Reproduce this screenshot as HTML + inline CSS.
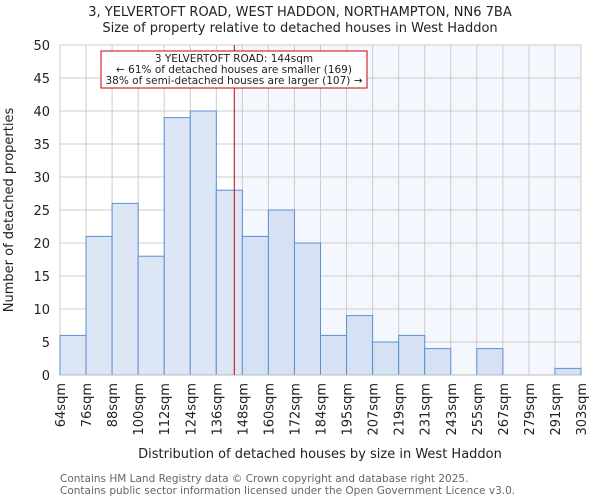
<!DOCTYPE html>
<html><head><meta charset="utf-8"><style>
body{margin:0;background:#fff;font-family:"DejaVu Sans","Liberation Sans",sans-serif}
</style></head><body>
<svg id="c" width="600" height="500" font-family="DejaVu Sans, Liberation Sans, sans-serif">
<text x="300" y="16" text-anchor="middle" font-size="13" fill="#222">3, YELVERTOFT ROAD, WEST HADDON, NORTHAMPTON, NN6 7BA</text>
<text x="300" y="32" text-anchor="middle" font-size="13" fill="#222">Size of property relative to detached houses in West Haddon</text>
<g id="plot"></g>
<text x="13" y="210" text-anchor="middle" font-size="13" fill="#222" transform="rotate(-90 13 210)">Number of detached properties</text>
<text x="320" y="458" text-anchor="middle" font-size="13" fill="#222">Distribution of detached houses by size in West Haddon</text>
<text x="60" y="482" font-size="10.5" fill="#666">Contains HM Land Registry data © Crown copyright and database right 2025.</text>
<text x="60" y="494" font-size="10.5" fill="#666">Contains public sector information licensed under the Open Government Licence v3.0.</text>
</svg>
<script>
const binLabels=["64sqm","76sqm","88sqm","100sqm","112sqm","124sqm","136sqm","148sqm","160sqm","172sqm","184sqm","195sqm","207sqm","219sqm","231sqm","243sqm","255sqm","267sqm","279sqm","291sqm","303sqm"];
const counts=[6,21,26,18,39,40,28,21,25,20,6,9,5,6,4,0,4,0,0,1];
const yTicks=[0,5,10,15,20,25,30,35,40,45,50];
const propertyBin=6.69;
const NS="http://www.w3.org/2000/svg";
const g=document.getElementById('plot');
const L=60,R=581,T=45,B=375,yMax=50;
const bw=(R-L)/counts.length;
const xs=i=>L+i*bw, ys=v=>B-(v/yMax)*(B-T);
function mk(t,a){const e=document.createElementNS(NS,t);for(const k in a)e.setAttribute(k,a[k]);g.appendChild(e);return e;}
const px=xs(propertyBin);
let e=mk('rect',{x:px,y:T,width:R-px,height:B-T,fill:'#f4f7fd'});


yTicks.forEach(v=>{
 let l=mk('line',{x1:L,x2:R,y1:ys(v),y2:ys(v),stroke:'#ccc','stroke-width':1});
 
 
 let t=mk('text',{x:L-10,y:ys(v)+5,'text-anchor':'end','font-size':13,fill:'#222'});
 t.textContent=v;
 
 
});
binLabels.forEach((s,i)=>{
 let l=mk('line',{x1:xs(i),x2:xs(i),y1:T,y2:B,stroke:'#ccc','stroke-width':1});
 
 
 const x=xs(i)+5,y=383;
 let t=mk('text',{x:x,y:y,'text-anchor':'end','font-size':13,fill:'#222',transform:`rotate(-90 ${x} ${y})`});
 t.textContent=s;
 
 
});
counts.forEach((v,i)=>{
 if(v<=0)return;
 let r=mk('rect',{x:xs(i),y:ys(v),width:bw,height:B-ys(v),fill:i<propertyBin?'#dce6f4':'#d6e1f3',stroke:'#5a8fd8','stroke-width':1});
 
 
});
let ax=mk('line',{x1:L,x2:R,y1:B,y2:B,stroke:'#bbb'});


let rl=mk('line',{x1:px,x2:px,y1:T,y2:B,stroke:'#cc0000','stroke-width':1});


let box=mk('rect',{x:101,y:51,width:266,height:37,fill:'#fff',stroke:'#cc0000','stroke-width':1});


[["3 YELVERTOFT ROAD: 144sqm",62],["← 61% of detached houses are smaller (169)",73],["38% of semi-detached houses are larger (107) →",84]].forEach(([s,y])=>{
 let t=mk('text',{x:234,y:y,'text-anchor':'middle','font-size':10.5,fill:'#222'});
 t.textContent=s;
 
 
});
</script>
</body></html>
